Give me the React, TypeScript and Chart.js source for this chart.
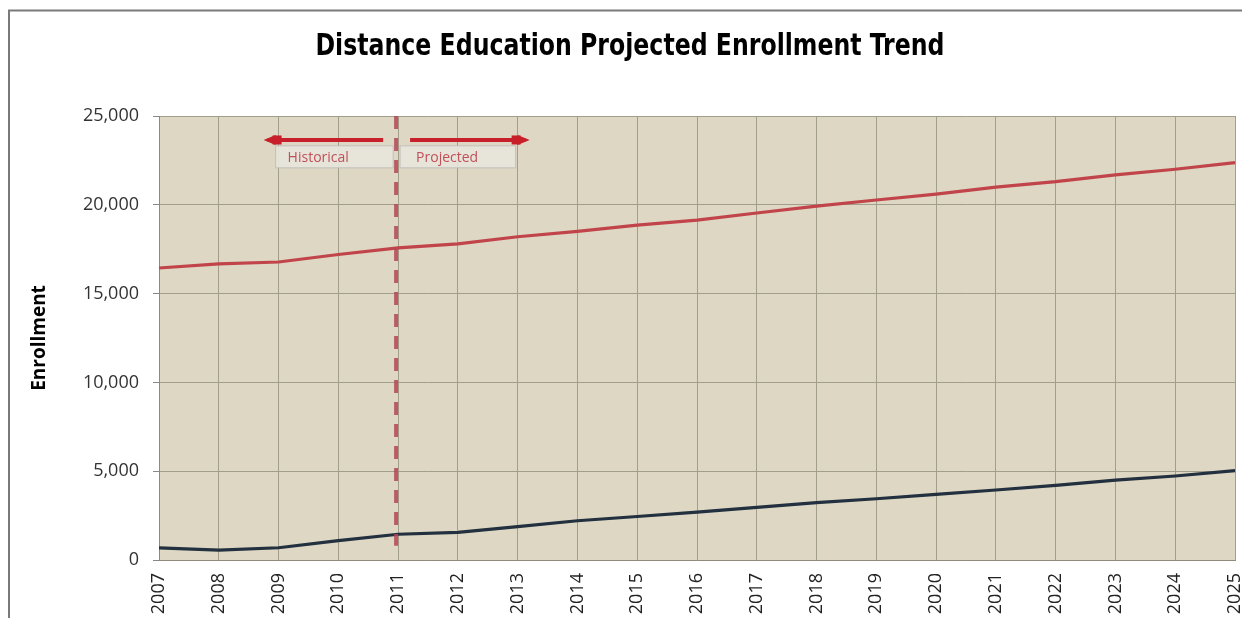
import React, { useEffect, useRef } from "react";
import { Chart, registerables } from "chart.js";

Chart.register(...registerables);

const years = ["2007", "2008", "2009", "2010", "2011", "2012", "2013", "2014", "2015", "2016", "2017", "2018", "2019", "2020", "2021", "2022", "2023", "2024", "2025"];
const upperSeries = [16440, 16670, 16780, 17200, 17570, 17800, 18200, 18500, 18860, 19140, 19540, 19930, 20270, 20600, 21000, 21300, 21680, 22000, 22370];
const lowerSeries = [680, 560, 690, 1090, 1450, 1560, 1880, 2210, 2450, 2700, 2960, 3230, 3450, 3700, 3940, 4200, 4500, 4730, 5030];
const yTicks = [0, 5000, 10000, 15000, 20000, 25000];
const titleText = "Distance Education Projected Enrollment Trend";
const dividerIndex = 4; // 2011
const annotationY = 23650;
const annotationTextY = 22700;
const historicalRange = [1.75, 3.75];
const projectedRange = [4.2, 6.2];

const plotBg = {
  id: "plotBg",
  beforeDraw(chart: any) {
    const { ctx, chartArea: a } = chart;
    ctx.save();
    ctx.strokeStyle = "#7a7a7a";
    ctx.lineWidth = 2;
    ctx.beginPath();
    ctx.moveTo(1, chart.height);
    ctx.lineTo(1, 2.5);
    ctx.lineTo(chart.width, 2.5);
    ctx.stroke();
    ctx.fillStyle = "#ddd7c3";
    ctx.fillRect(a.left, a.top, a.right - a.left, a.bottom - a.top);
    ctx.restore();
  },
};

function arrow(ctx: any, x1: number, x2: number, y: number, headAtStart: boolean) {
  ctx.strokeStyle = "#c8202a";
  ctx.fillStyle = "#c8202a";
  ctx.lineWidth = 4;
  ctx.beginPath();
  ctx.moveTo(x1, y);
  ctx.lineTo(x2, y);
  ctx.stroke();
  const tip = headAtStart ? x1 - 4 : x2 + 4;
  const dir = headAtStart ? 1 : -1;
  ctx.beginPath();
  ctx.moveTo(tip, y);
  ctx.lineTo(tip + dir * 12, y - 5);
  ctx.lineTo(tip + dir * 12, y + 5);
  ctx.closePath();
  ctx.fill();
  ctx.fillRect(Math.min(tip + dir * 9, tip + dir * 18), y - 4.5, 9, 9);
}

const overlay = {
  id: "overlay",
  afterDatasetsDraw(chart: any) {
    const { ctx, chartArea: a } = chart;
    const xs = chart.scales.x;
    const ys = chart.scales.y;
    ctx.save();
    const dx = xs.getPixelForValue(dividerIndex) - 2;
    ctx.strokeStyle = "rgba(180,70,80,0.85)";
    ctx.lineWidth = 4;
    ctx.setLineDash([13, 9]);
    ctx.beginPath();
    ctx.moveTo(dx, a.top);
    ctx.lineTo(dx, ys.getPixelForValue(800));
    ctx.stroke();
    ctx.setLineDash([]);

    const ay = ys.getPixelForValue(annotationY);
    const ty = ys.getPixelForValue(annotationTextY);
    const hx1 = xs.getPixelForValue(historicalRange[0]);
    const hx2 = xs.getPixelForValue(historicalRange[1]);
    const px1 = xs.getPixelForValue(projectedRange[0]);
    const px2 = xs.getPixelForValue(projectedRange[1]);

    ctx.fillStyle = "rgba(232,230,220,0.9)";
    ctx.strokeStyle = "rgba(190,190,185,0.9)";
    ctx.lineWidth = 1;
    ctx.fillRect(hx1 + 12, ty - 11, hx2 - hx1 - 2, 22);
    ctx.strokeRect(hx1 + 12, ty - 11, hx2 - hx1 - 2, 22);
    ctx.fillRect(px1 - 10, ty - 11, px2 - px1 - 4, 22);
    ctx.strokeRect(px1 - 10, ty - 11, px2 - px1 - 4, 22);

    arrow(ctx, hx1 + 4, hx2, ay, true);
    arrow(ctx, px1, px2 - 4, ay, false);

    ctx.fillStyle = "#c0505a";
    ctx.font = "14px 'Open Sans', sans-serif";
    ctx.textBaseline = "middle";
    ctx.textAlign = "left";
    ctx.fillText("Historical", hx1 + 24, ty + 1);
    ctx.fillText("Projected", px1 + 6, ty + 1);
    ctx.restore();
  },
  afterDraw(chart: any) {
    const { ctx } = chart;
    ctx.save();
    ctx.font = "bold 30px 'DejaVu Sans Condensed', 'DejaVu Sans', sans-serif";
    ctx.fillStyle = "#000";
    ctx.textAlign = "center";
    ctx.textBaseline = "alphabetic";
    const w = ctx.measureText(titleText).width;
    const target = 629;
    const sx = Math.min(1, target / w);
    ctx.translate(chart.width / 2 + 5, 47);
    ctx.scale(sx, 1);
    ctx.fillText(titleText, 0, 0);
    ctx.restore();
  },
};

export default function App() {
  const ref = useRef<HTMLCanvasElement>(null);
  useEffect(() => {
    if (!ref.current) return;
    const chart = new Chart(ref.current, {
      type: "line",
      data: {
        labels: years,
        datasets: [
          {
            label: "Upper",
            data: upperSeries,
            borderColor: "#c2444b",
            borderWidth: 3.2,
            pointRadius: 0,
            tension: 0,
          },
          {
            label: "Lower",
            data: lowerSeries,
            borderColor: "#22303f",
            borderWidth: 3.2,
            pointRadius: 0,
            tension: 0,
          },
        ],
      },
      options: {
        responsive: false,
        animation: false,
        layout: { padding: { left: 0, right: 7, top: 108, bottom: 0 } },
        plugins: {
          legend: { display: false },
          tooltip: { enabled: false },
          title: { display: false },
        },
        scales: {
          x: {
            type: "category",
            offset: false,
            afterFit: (s: any) => {
              s.height = 58;
              s.paddingLeft = 0;
              s.paddingRight = 0;
            },
            grid: { color: "#a29e8c", lineWidth: 1, drawTicks: false },
            border: { color: "#8f8b7c", width: 1 },
            ticks: {
              minRotation: 90,
              maxRotation: 90,
              autoSkip: false,
              padding: 13,
              color: "#222",
              font: { family: "'Open Sans', sans-serif", size: 18 },
            },
          },
          y: {
            min: 0,
            max: 25000,
            afterFit: (s: any) => {
              s.width = 151;
              s.paddingTop = 0;
              s.paddingBottom = 0;
            },
            afterBuildTicks: (s: any) => {
              s.ticks = yTicks.map((v) => ({ value: v }));
            },
            grid: { color: "#a29e8c", lineWidth: 1, drawTicks: true, tickLength: 6, tickColor: "#888" },
            border: { color: "#8f8b7c", width: 1 },
            ticks: {
              padding: 14,
              color: "#333",
              font: { family: "'Open Sans', sans-serif", size: 18 },
              callback: (v: any) => Number(v).toLocaleString("en-US"),
            },
            title: {
              display: true,
              text: "Enrollment",
              color: "#000",
              font: { family: "'Open Sans', sans-serif", size: 19, weight: "bold" },
              padding: { top: 20, bottom: 0 },
            },
          },
        },
      },
      plugins: [plotBg, overlay],
    });
    return () => chart.destroy();
  }, []);
  return (
    <div style={{ width: 1234, height: 610, overflow: "hidden" }}>
      <canvas ref={ref} width={1234} height={610} style={{ display: "block" }} />
    </div>
  );
}
